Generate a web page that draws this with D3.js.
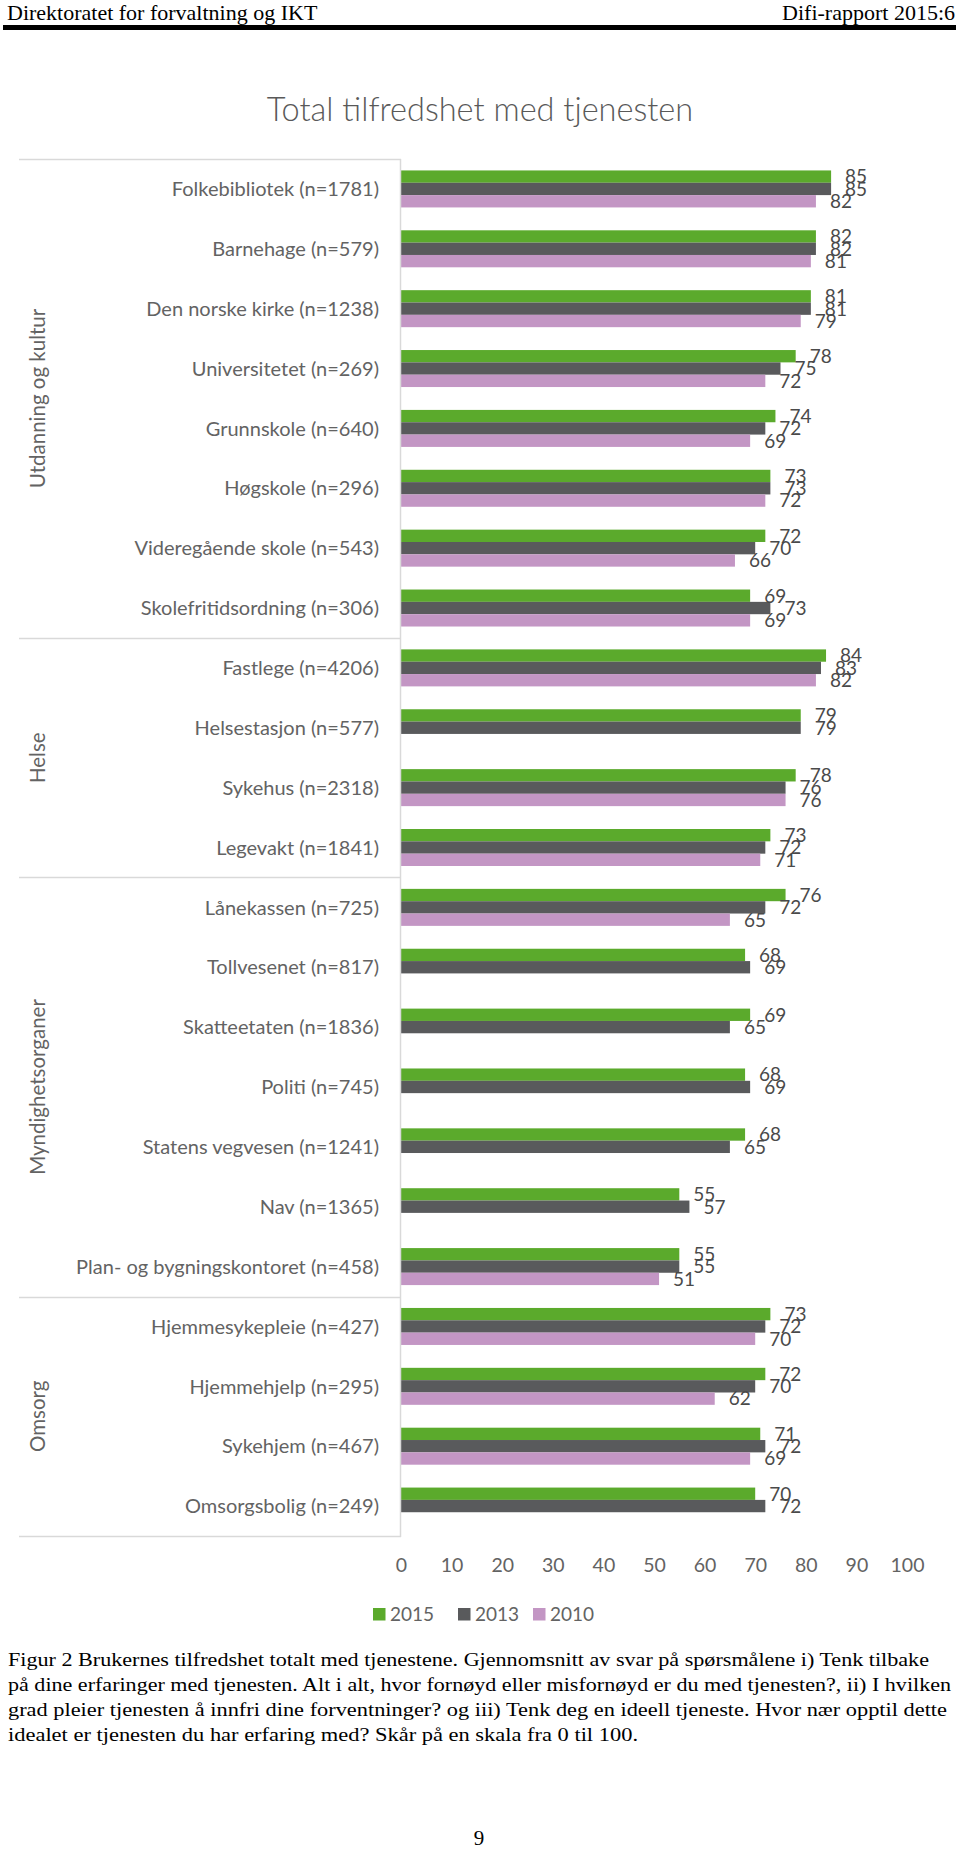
<!DOCTYPE html>
<html>
<head>
<meta charset="utf-8">
<script src="https://cdn.jsdelivr.net/npm/d3@7"></script>
<style>
  html, body { margin: 0; padding: 0; background: #fff; }
  svg { display: block; }
</style>
</head>
<body>
<script>
// ---------- DATA ----------
const categories = [
  "Folkebibliotek (n=1781)", "Barnehage (n=579)", "Den norske kirke (n=1238)",
  "Universitetet (n=269)", "Grunnskole (n=640)", "Høgskole (n=296)",
  "Videregående skole (n=543)", "Skolefritidsordning (n=306)",
  "Fastlege (n=4206)", "Helsestasjon (n=577)", "Sykehus (n=2318)", "Legevakt (n=1841)",
  "Lånekassen (n=725)", "Tollvesenet (n=817)", "Skatteetaten (n=1836)", "Politi (n=745)",
  "Statens vegvesen (n=1241)", "Nav (n=1365)", "Plan- og bygningskontoret (n=458)",
  "Hjemmesykepleie (n=427)", "Hjemmehjelp (n=295)", "Sykehjem (n=467)", "Omsorgsbolig (n=249)"
];
const groupNames = ["Utdanning og kultur", "Helse", "Myndighetsorganer", "Omsorg"];
const groupSizes = [8, 4, 7, 4];
const years = ["2015", "2013", "2010"];
const values2015 = [85, 82, 81, 78, 74, 73, 72, 69, 84, 79, 78, 73, 76, 68, 69, 68, 68, 55, 55, 73, 72, 71, 70];
const values2013 = [85, 82, 81, 75, 72, 73, 70, 73, 83, 79, 76, 72, 72, 69, 65, 69, 65, 57, 55, 72, 70, 72, 72];
const values2010 = [82, 81, 79, 72, 69, 72, 66, 69, 82, null, 76, 71, 65, null, null, null, null, null, 51, 70, 62, 69, null];
const xTicks = [0, 10, 20, 30, 40, 50, 60, 70, 80, 90, 100];
const colors = ["#5BAA2C", "#595A5C", "#C396C4"];

const headerLeft = "Direktoratet for forvaltning og IKT";
const headerRight = "Difi-rapport 2015:6";
const title = "Total tilfredshet med tjenesten";
const captionLines = [
  "Figur 2 Brukernes tilfredshet totalt med tjenestene. Gjennomsnitt av svar på spørsmålene i) Tenk tilbake",
  "på dine erfaringer med tjenesten. Alt i alt, hvor fornøyd eller misfornøyd er du med tjenesten?, ii) I hvilken",
  "grad pleier tjenesten å innfri dine forventninger? og iii) Tenk deg en ideell tjeneste. Hvor nær opptil dette",
  "idealet er tjenesten du har erfaring med? Skår på en skala fra 0 til 100."
];
const captionWidths = [921, 943, 939, 630];
const pageNumber = "9";

// ---------- LAYOUT ----------
const W = 960, H = 1849;
const plotLeft = 401, plotRight = 907, plotTop = 159, plotBottom = 1536;
const lineLeft = 19;
const sans = "Lato, 'Open Sans', sans-serif";
const serif = "'Liberation Serif', 'DejaVu Serif', serif";
const gray = "#636363";

const svg = d3.select("body").append("svg").attr("width", W).attr("height", H);
svg.append("rect").attr("width", W).attr("height", H).attr("fill", "#fff");

// Header
svg.append("text").attr("x", 7).attr("y", 20).attr("font-family", serif).attr("font-size", 22)
  .attr("fill", "#000").text(headerLeft);
svg.append("text").attr("x", 955).attr("y", 20).attr("text-anchor", "end").attr("font-family", serif)
  .attr("font-size", 22).attr("fill", "#000").text(headerRight);
svg.append("rect").attr("x", 3).attr("y", 25).attr("width", 953).attr("height", 5).attr("fill", "#000");

// Title
svg.append("text").attr("x", 480).attr("y", 121).attr("text-anchor", "middle")
  .attr("font-family", sans).attr("font-size", 32.5).attr("font-weight", 300)
  .attr("fill", "#595959").text(title);

// Scales
const y = d3.scaleBand().domain(categories).range([plotTop, plotBottom])
  .paddingInner(0.382).paddingOuter(0.191);
const ySub = d3.scaleBand().domain(years).range([0, y.bandwidth()]);
const x = d3.scaleLinear().domain([0, 100]).range([plotLeft, plotRight]);

const seriesValues = [values2015, values2013, values2010];

// Bars
const g = svg.append("g");
years.forEach((yr, si) => {
  const vals = seriesValues[si];
  const data = categories.map((c, i) => ({ c, v: vals[i] })).filter(d => d.v != null);
  g.selectAll(null).data(data).enter().append("rect")
    .attr("x", x(0))
    .attr("y", d => y(d.c) + ySub(yr))
    .attr("width", d => x(d.v) - x(0))
    .attr("height", ySub.bandwidth())
    .attr("fill", colors[si]);
});

// Value labels
years.forEach((yr, si) => {
  const vals = seriesValues[si];
  const data = categories.map((c, i) => ({ c, v: vals[i] })).filter(d => d.v != null);
  g.selectAll(null).data(data).enter().append("text")
    .attr("x", d => x(d.v) + 14)
    .attr("y", d => y(d.c) + ySub(yr) + ySub.bandwidth() / 2)
    .attr("dy", "0.36em")
    .attr("font-family", sans).attr("font-size", 19).attr("fill", "#4a4a4a")
    .text(d => d.v);
});

// Category labels
svg.append("g").selectAll("text").data(categories).enter().append("text")
  .attr("x", 379)
  .attr("y", d => y(d) + y.bandwidth() / 2)
  .attr("dy", "0.36em")
  .attr("text-anchor", "end")
  .attr("font-family", sans).attr("font-size", 20).attr("fill", gray)
  .text(d => d);

// Group lines and labels
const lineColor = "#D9D9D9";
let start = 0;
const boundaries = [plotTop];
groupSizes.forEach((n, gi) => {
  const first = categories[start], last = categories[start + n - 1];
  const top = y(first) - y.step() * y.paddingInner() / 2;
  const bottom = y(last) + y.bandwidth() + y.step() * y.paddingInner() / 2;
  boundaries.push(bottom);
  const cy = (top + bottom) / 2;
  svg.append("text")
    .attr("transform", `translate(38,${cy}) rotate(-90)`)
    .attr("text-anchor", "middle").attr("dy", "0.36em")
    .attr("font-family", sans).attr("font-size", 20.5).attr("fill", gray)
    .text(groupNames[gi]);
  start += n;
});
boundaries.forEach(b => {
  svg.append("line").attr("x1", lineLeft).attr("x2", plotLeft)
    .attr("y1", Math.round(b) + 0.5).attr("y2", Math.round(b) + 0.5)
    .attr("stroke", lineColor).attr("stroke-width", 1.5);
});
svg.append("line").attr("x1", plotLeft - 0.5).attr("x2", plotLeft - 0.5)
  .attr("y1", plotTop).attr("y2", Math.round(plotBottom) + 1)
  .attr("stroke", lineColor).attr("stroke-width", 1.5);

// X axis (labels only)
const xAxis = d3.axisBottom(x).tickValues(xTicks).tickSize(0).tickPadding(0);
const ax = svg.append("g").attr("transform", `translate(0,1565)`).call(xAxis);
ax.select(".domain").remove();
ax.selectAll("text").attr("dy", "0.36em").attr("y", 0)
  .attr("font-family", sans).attr("font-size", 19.5).attr("fill", gray);

// Legend
const legendX = [373, 458, 533];
years.forEach((yr, i) => {
  svg.append("rect").attr("x", legendX[i]).attr("y", 1608).attr("width", 12.5).attr("height", 12.5)
    .attr("fill", colors[i]);
  svg.append("text").attr("x", legendX[i] + 17).attr("y", 1614).attr("dy", "0.36em")
    .attr("font-family", sans).attr("font-size", 19).attr("fill", gray).text(yr);
});

// Caption
captionLines.forEach((line, i) => {
  svg.append("text").attr("x", 8).attr("y", 1666 + i * 25)
    .attr("font-family", serif).attr("font-size", 19).attr("fill", "#000")
    .attr("textLength", captionWidths[i]).attr("lengthAdjust", "spacingAndGlyphs")
    .text(line);
});

// Page number
svg.append("text").attr("x", 479).attr("y", 1845).attr("text-anchor", "middle")
  .attr("font-family", serif).attr("font-size", 21).attr("fill", "#000").text(pageNumber);
</script>
</body>
</html>
